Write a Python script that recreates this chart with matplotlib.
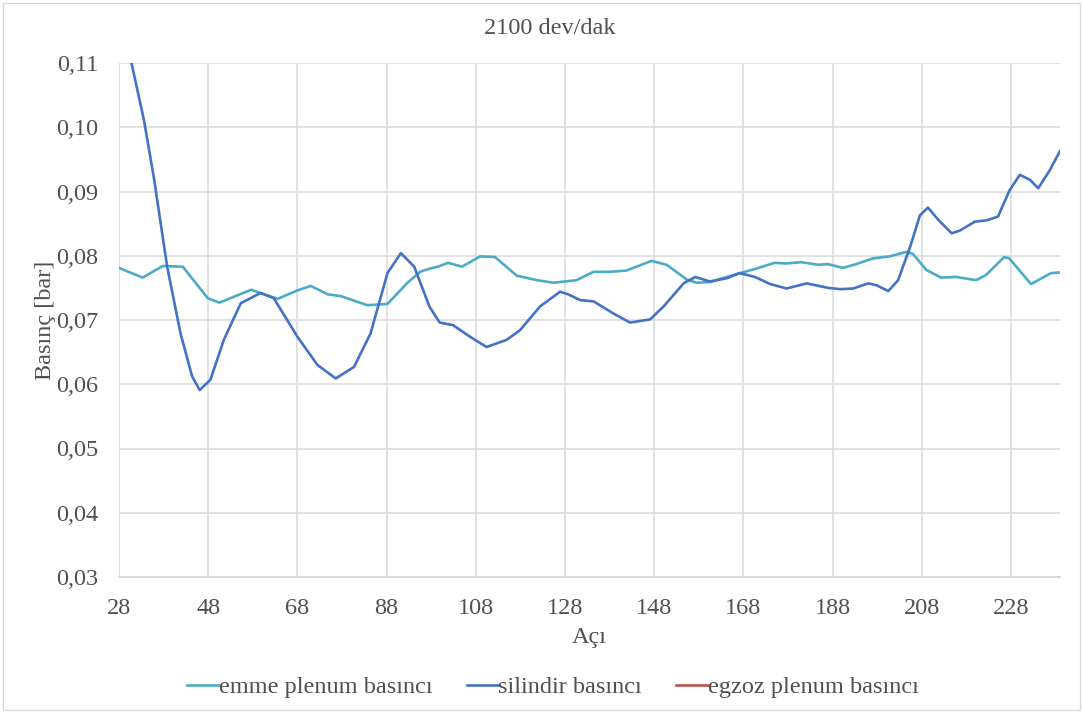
import matplotlib.pyplot as plt
from matplotlib.patches import Rectangle
from matplotlib.ticker import FuncFormatter, MultipleLocator

plt.rcParams['font.family'] = ['Liberation Serif', 'DejaVu Serif']

# emme plenum basinci (angle, bar)
emme_x = [28, 33.3, 37.8, 42.3, 47.9, 50.5, 57.6, 63.6, 68.0, 71.0, 74.8, 77.8,
          83.7, 88.2, 92.7, 95.5, 97.7, 99.5, 101.8, 104.9, 109.0, 112.3, 117.2,
          121.7, 125.4, 130.6, 134.4, 138.1, 141.8, 147.4, 150.8, 155.3, 157.5,
          160.5, 165.7, 170.9, 175.0, 177.6, 181.0, 184.7, 187.0, 190.3, 193.3,
          197.1, 200.8, 204.5, 206.0, 209.0, 212.3, 215.7, 220.2, 222.4, 226.5,
          227.6, 232.5, 237.0, 239]
emme_y = [0.0781, 0.0766, 0.0784, 0.0783, 0.0734, 0.0727, 0.0747, 0.0733, 0.0746,
          0.0753, 0.0740, 0.0737, 0.0723, 0.0725, 0.0758, 0.0775, 0.0780, 0.0783,
          0.0789, 0.0783, 0.0799, 0.0798, 0.0769, 0.0762, 0.0758, 0.0762, 0.0775,
          0.0775, 0.0777, 0.0792, 0.0786, 0.0763, 0.0758, 0.0759, 0.0770, 0.0780,
          0.0789, 0.0788, 0.0790, 0.0786, 0.0787, 0.0781, 0.0787, 0.0796, 0.0799,
          0.0806, 0.0803, 0.0778, 0.0766, 0.0767, 0.0762, 0.0770, 0.0798, 0.0796,
          0.0756, 0.0773, 0.0774]

# silindir basinci (angle, bar)
sil_x = [28, 30.8, 33.6, 35.9, 38.8, 41.8, 44.4, 46.1, 48.5, 51.5, 55.3, 59.7,
         62.7, 68.0, 72.5, 76.6, 80.7, 84.4, 88.2, 91.2, 94.2, 97.6, 99.9, 102.9,
         106.7, 110.4, 114.9, 117.9, 122.4, 126.9, 128.7, 131.4, 134.4, 138.9,
         142.6, 147.1, 150.1, 154.6, 157.2, 160.5, 164.3, 167.2, 170.6, 174.0,
         177.7, 182.2, 187.0, 189.7, 192.6, 196.0, 197.9, 200.5, 202.7, 205.4,
         207.6, 209.4, 211.7, 214.7, 216.5, 219.9, 222.5, 225.1, 227.7, 230.0,
         232.3, 234.1, 236.7, 239]
sil_y = [0.119, 0.110, 0.1011, 0.0918, 0.0783, 0.0679, 0.0612, 0.0591, 0.0607,
         0.0669, 0.0726, 0.0742, 0.0734, 0.0674, 0.0630, 0.0609, 0.0627, 0.0679,
         0.0773, 0.0804, 0.0783, 0.0721, 0.0696, 0.0692, 0.0674, 0.0658, 0.0669,
         0.0684, 0.0721, 0.0744, 0.0740, 0.0731, 0.0729, 0.0710, 0.0696, 0.0701,
         0.0721, 0.0757, 0.0767, 0.0760, 0.0765, 0.0773, 0.0767, 0.0756, 0.0749,
         0.0757, 0.0750, 0.0748, 0.0749, 0.0757, 0.0754, 0.0745, 0.0762, 0.0814,
         0.0863, 0.0875, 0.0856, 0.0835, 0.0839, 0.0853, 0.0855, 0.0861, 0.0902,
         0.0926, 0.0918, 0.0905, 0.0933, 0.0963]

# egzoz plenum basinci: outside the visible range, only shown in the legend
egz_x = []
egz_y = []

fig = plt.figure(figsize=(10.83, 7.13), dpi=100)
ax = fig.add_axes([119 / 1083, 1 - 577 / 713, (1060 - 119) / 1083, (577 - 63) / 713])

ax.plot(emme_x, emme_y, color='#4BACC6', lw=1.9, label='emme plenum basıncı')
ax.plot(sil_x, sil_y, color='#4472C4', lw=1.9, label='silindir basıncı')
ax.plot(egz_x, egz_y, color='#C0504D', lw=1.9, label='egzoz plenum basıncı')

ax.set_xlim(28, 239)
ax.set_ylim(0.03, 0.11)
ax.set_xticks(range(28, 240, 20))
ax.yaxis.set_major_locator(MultipleLocator(0.01))
ax.yaxis.set_major_formatter(FuncFormatter(lambda v, p: f'{v:.2f}'.replace('.', ',')))

ax.grid(True, color='#D9D9D9', lw=1.1)
ax.set_axisbelow(True)
for s in ['left', 'right', 'top']:
    ax.spines[s].set_visible(False)
ax.spines['bottom'].set_color('#D0D0D0')
ax.spines['bottom'].set_linewidth(1.1)
ax.tick_params(length=0, labelsize=17.5, colors='#505050')
ax.tick_params(axis='y', pad=15)
ax.tick_params(axis='x', pad=15)

ax.set_xlabel('Açı', fontsize=17.5, color='#505050', labelpad=6)
ax.set_ylabel('Basınç [bar]', fontsize=17.5, color='#505050', labelpad=0)
fig.text(550 / 1083, 1 - 29 / 713, '2100 dev/dak', ha='center', va='center',
         fontsize=17.5, color='#505050')

ax.legend(loc='center', bbox_to_anchor=(553 / 1083, 1 - 687 / 713),
          bbox_transform=fig.transFigure, ncol=3, frameon=False, fontsize=17.5,
          handlelength=1.3, handletextpad=0.0, columnspacing=1.4,
          labelcolor='#505050')

fig.patches.append(Rectangle((3 / 1083, 3 / 713), 1077 / 1083, 707 / 713,
                             transform=fig.transFigure, fill=False,
                             edgecolor='#D9D9D9', lw=1))

fig.savefig('out.png', dpi=100)
